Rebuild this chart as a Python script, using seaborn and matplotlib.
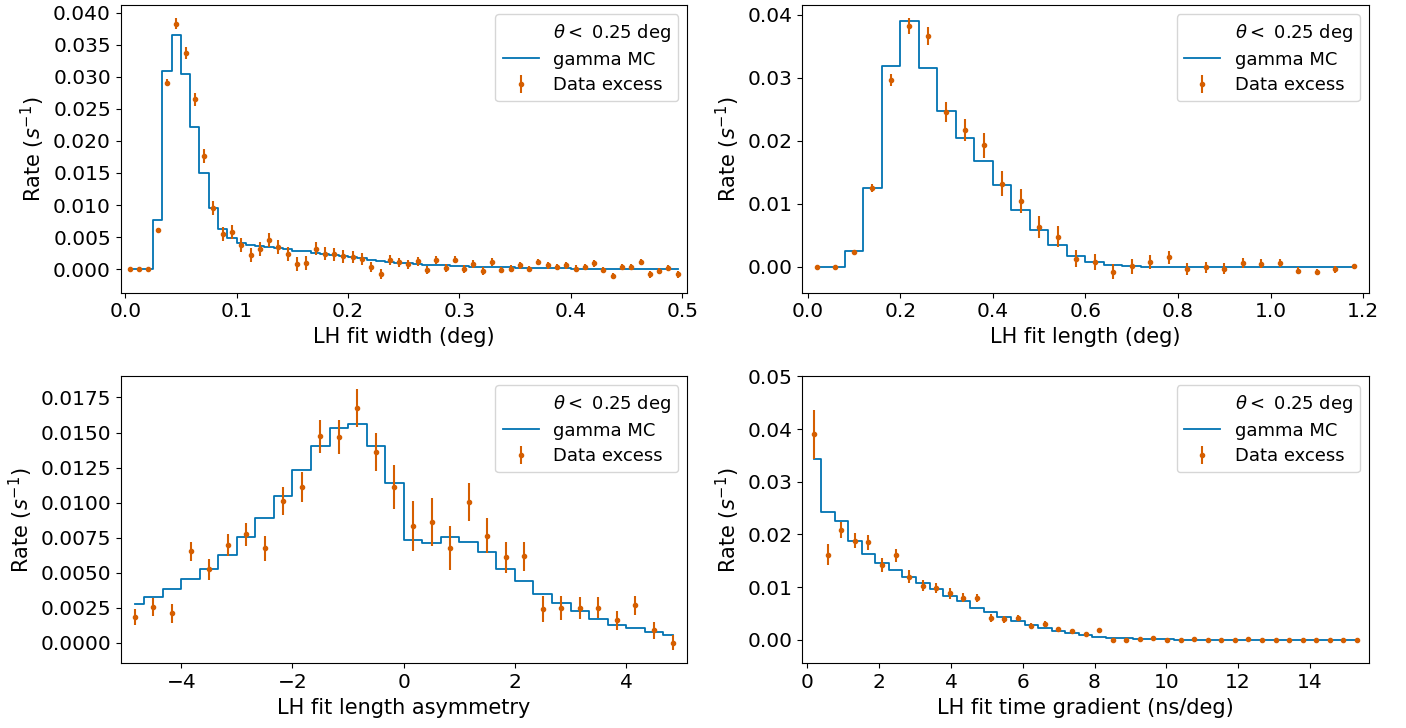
import numpy as np
import matplotlib
matplotlib.use("Agg")
import matplotlib.pyplot as plt
from matplotlib.ticker import MultipleLocator
import seaborn as sns

# bins for the four variables
width_edges = np.linspace(0, 0.5, 61)
length_edges = np.linspace(0, 1.2, 31)
asym_edges = np.linspace(-5, 5, 31)
tgrad_edges = np.linspace(0, 15.5, 42)

# LH fit width
width_mc = [0.0, 0.0, 0.00005, 0.0077, 0.0309, 0.0365, 0.0305, 0.0222, 0.0150, 0.0096,
            0.0063, 0.0048, 0.0041, 0.0037, 0.0036, 0.0034, 0.0033, 0.0031, 0.0029, 0.0028,
            0.0026, 0.0024, 0.0022, 0.0021, 0.0019, 0.0017, 0.0015, 0.0013, 0.0011, 0.0010,
            0.0009, 0.0008, 0.0007, 0.0006, 0.0006, 0.0005, 0.0005, 0.0004, 0.0004, 0.0003,
            0.0003, 0.0003, 0.0002, 0.0002, 0.0002, 0.0002, 0.00015, 0.00015, 0.0001, 0.0001,
            0.0001, 0.0001, 0.0001, 0.00008, 0.00008, 0.00006, 0.00006, 0.00005, 0.00005, 0.00005]
width_data = [0.0, 0.0, 0.0, 0.0061, 0.0291, 0.0383, 0.0337, 0.0265, 0.0177, 0.0096,
              0.0055, 0.0058, 0.0038, 0.0022, 0.0031, 0.0045, 0.0034, 0.0024, 0.0008, 0.0009,
              0.0032, 0.0024, 0.0023, 0.0020, 0.0019, 0.0016, 0.0003, -0.0007, 0.0014, 0.0011,
              0.0008, 0.0012, -0.0001, 0.0014, 0.0002, 0.0015, 0.0000, 0.0008, -0.0003, 0.0011,
              -0.0001, 0.0001, 0.0006, 0.0000, 0.0011, 0.0006, 0.0003, 0.0006, 0.0001, 0.0003,
              0.0009, -0.0001, -0.0011, 0.0003, 0.0003, 0.0011, -0.0008, -0.0003, 0.0002, -0.0008]
width_err = [0.00005, 0.00005, 0.00005, 0.0003, 0.0005, 0.0008, 0.0009, 0.0010, 0.0011, 0.0011,
             0.0011, 0.0011, 0.0011, 0.0011, 0.0011, 0.0011, 0.0011, 0.0011, 0.0011, 0.0011,
             0.0010, 0.0010, 0.0010, 0.0010, 0.0010, 0.0010, 0.0008, 0.0008, 0.0008, 0.0007,
             0.0007, 0.0007, 0.0006, 0.0006, 0.0006, 0.0006, 0.0006, 0.0006, 0.0006, 0.0006,
             0.0005, 0.0005, 0.0005, 0.0005, 0.0005, 0.0005, 0.0005, 0.0005, 0.0005, 0.0005,
             0.0005, 0.0005, 0.0005, 0.0005, 0.0005, 0.0005, 0.0005, 0.0005, 0.0005, 0.0005]

# LH fit length
length_mc = [0.0, 0.0, 0.0025, 0.0125, 0.0319, 0.0390, 0.0316, 0.0247, 0.0205, 0.0168,
             0.0129, 0.0090, 0.0058, 0.0034, 0.0017, 0.0007, 0.0003, 0.0001, 0.00005, 0.0,
             0.0, 0.0, 0.0, 0.0, 0.0, 0.0, 0.0, 0.0, 0.0, 0.0]
length_data = [0.0, 0.0, 0.0023, 0.0125, 0.0296, 0.0382, 0.0366, 0.0246, 0.0217, 0.0193,
               0.0132, 0.0105, 0.0063, 0.0048, 0.0013, 0.0008, -0.0008, 0.0001, 0.0008, 0.0015,
               -0.0004, -0.0001, -0.0003, 0.0006, 0.0005, 0.0006, -0.0006, -0.0008, -0.0004, 0.0001]
length_err = [0.0001, 0.0001, 0.0003, 0.0007, 0.0009, 0.0012, 0.0014, 0.0016, 0.0018, 0.0020,
              0.0020, 0.0019, 0.0018, 0.0016, 0.0014, 0.0013, 0.0012, 0.0012, 0.0011, 0.0010,
              0.00095, 0.0009, 0.0009, 0.0008, 0.0007, 0.0007, 0.0006, 0.0005, 0.0005, 0.0004]

# LH fit length asymmetry
asym_mc = [0.00275, 0.00325, 0.00384, 0.00453, 0.00529, 0.00626, 0.00752, 0.00887, 0.0105, 0.01231,
           0.01401, 0.0153, 0.0156, 0.01404, 0.01141, 0.00733, 0.00714, 0.00756, 0.00718, 0.00647,
           0.00529, 0.00439, 0.00351, 0.0028, 0.00225, 0.00171, 0.0013, 0.00102, 0.00078, 0.00055]
asym_data = [0.00183, 0.00256, 0.00209, 0.00652, 0.00526, 0.00697, 0.00773, 0.00673, 0.01013, 0.0111,
             0.01473, 0.01468, 0.01674, 0.01361, 0.01112, 0.0083, 0.00863, 0.00678, 0.01003, 0.00764,
             0.0061, 0.00617, 0.0024, 0.00247, 0.00247, 0.00249, 0.00159, 0.00266, 0.0009, 0.0]
asym_err = [0.0006, 0.00065, 0.00065, 0.0007, 0.00075, 0.0008, 0.00083, 0.00089, 0.00098, 0.00107,
            0.00116, 0.00124, 0.00134, 0.00138, 0.00157, 0.00178, 0.00172, 0.00157, 0.00136, 0.00124,
            0.00111, 0.00102, 0.0009, 0.00085, 0.00078, 0.00074, 0.00069, 0.00065, 0.0006, 0.00055]

# LH fit time gradient
tgrad_mc = [0.0343, 0.0242, 0.0225, 0.0188, 0.0163, 0.0146, 0.0133, 0.0119, 0.0108, 0.0096,
            0.0084, 0.0073, 0.0061, 0.0053, 0.0043, 0.0035, 0.0029, 0.0022, 0.0017, 0.0013,
            0.0009, 0.0006, 0.0004, 0.0003, 0.0002, 0.0001, 0.0001, 0.00005, 0.0, 0.0,
            0.0, 0.0, 0.0, 0.0, 0.0, 0.0, 0.0, 0.0, 0.0, 0.0, 0.0]
tgrad_data = [0.0390, 0.0161, 0.0208, 0.0188, 0.0185, 0.0142, 0.0160, 0.0120, 0.0103, 0.0098,
              0.0088, 0.0080, 0.0079, 0.0041, 0.0039, 0.0041, 0.0027, 0.0030, 0.0020, 0.0017,
              0.0011, 0.0018, -0.0001, -0.0001, 0.0001, 0.0003, -0.0001, 0.0000, 0.0001, 0.0000,
              0.0000, 0.0000, 0.0002, 0.0000, 0.0, 0.0, 0.0, 0.0, 0.0, 0.0, 0.0]
tgrad_err = [0.0047, 0.0020, 0.0015, 0.00146, 0.0014, 0.0013, 0.0013, 0.0012, 0.0011, 0.0010,
             0.0010, 0.0009, 0.0008, 0.0007, 0.0007, 0.0006, 0.0005, 0.0005, 0.0004, 0.0004,
             0.0003, 0.0003, 0.0003, 0.0002, 0.0002, 0.0002, 0.0002, 0.0001, 0.0001, 0.0001,
             0.0001, 0.0001, 0.0001, 0.0001, 0.0001, 0.0001, 0.0001, 0.0001, 0.0001, 0.0001, 0.0001]

x_labels = ["LH fit width (deg)", "LH fit length (deg)",
            "LH fit length asymmetry", "LH fit time gradient (ns/deg)"]
cut_label = r"$\theta <$ 0.25 deg"

mc_color = "#0173b2"
data_color = "#d55e00"

plt.rcParams["font.size"] = 14.5
plt.rcParams["axes.labelsize"] = 15
plt.rcParams["legend.fontsize"] = 13

# edges, mc, data, err, xlim, ylim, y tick step
panels = [
    (width_edges, width_mc, width_data, width_err, (-0.0041, 0.5045), None, 0.005),
    (length_edges, length_mc, length_data, length_err, (-0.012, 1.212), None, 0.01),
    (asym_edges, asym_mc, asym_data, asym_err, (-5.09, 5.10), None, 0.0025),
    (tgrad_edges, tgrad_mc, tgrad_data, tgrad_err, (-0.15, 15.64), (-0.0045, 0.05), 0.01),
]

fig, axes = plt.subplots(2, 2, figsize=(14.06, 7.28), dpi=100)
fig.subplots_adjust(left=0.0858, right=0.9735, top=0.9927, bottom=0.0886,
                    wspace=0.2024, hspace=0.2918)

for ax, (edges, mc, data, err, xlim, ylim, ystep), xl in zip(axes.flat, panels, x_labels):
    centers = 0.5 * (edges[:-1] + edges[1:])
    ax.plot([], [], " ", label=cut_label)
    sns.lineplot(x=centers, y=mc, ax=ax, color=mc_color, lw=1.3,
                 drawstyle="steps-mid", label="gamma MC")
    ax.errorbar(centers, data, yerr=err, fmt=".", color=data_color,
                label="Data excess")
    ax.set_xlim(*xlim)
    if ylim is not None:
        ax.set_ylim(*ylim)
    ax.yaxis.set_major_locator(MultipleLocator(ystep))
    ax.set_xlabel(xl)
    ax.set_ylabel("Rate ($s^{-1}$)")
    ax.legend(loc="upper right", labelspacing=0.4)

fig.savefig("out.png", dpi=100)
